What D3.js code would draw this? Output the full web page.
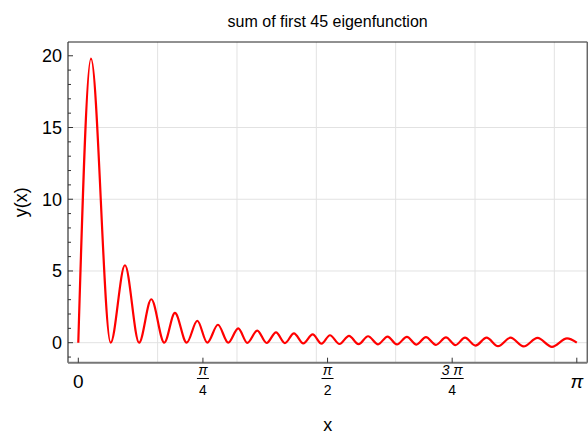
<!DOCTYPE html>
<html>
<head>
<meta charset="utf-8">
<script src="https://cdn.jsdelivr.net/npm/d3@7"></script>
<style>
  body { margin: 0; background: #fff; }
  svg { display: block; font-family: "Liberation Sans", Arial, sans-serif; }
</style>
</head>
<body>
<svg id="chart" width="588" height="436"></svg>
<script>
// curve: successive peaks and troughs
var curveX = [0, 0.080, 0.204, 0.294, 0.383, 0.460, 0.542, 0.609, 0.683, 0.750, 0.813,
  0.880, 0.945, 1.008, 1.065, 1.128, 1.187, 1.246, 1.302, 1.359, 1.418, 1.477, 1.533,
  1.586, 1.646, 1.706, 1.766, 1.826, 1.889, 1.949, 2.008, 2.071, 2.131, 2.191, 2.254,
  2.317, 2.377, 2.437, 2.503, 2.573, 2.645, 2.724, 2.806, 2.894, 2.985, 3.080, 3.1416];
var curveY = [0, 19.8, 0, 5.4, 0, 3.03, 0, 2.08, 0, 1.53, 0,
  1.25, 0, 1.0, -0.01, 0.84, -0.02, 0.72, -0.03, 0.65, -0.05, 0.58, -0.07,
  0.52, -0.09, 0.48, -0.10, 0.45, -0.11, 0.43, -0.12, 0.41, -0.13, 0.39, -0.15,
  0.37, -0.17, 0.35, -0.20, 0.35, -0.24, 0.35, -0.26, 0.33, -0.29, 0.30, 0];

var yMajor = [0, 5, 10, 15, 20],
 yMinor = [-1, 1, 2, 3, 4, 6, 7, 8, 9, 11, 12, 13, 14, 16, 17, 18, 19],
 yGrid = [0, 5, 10, 15],
 xGrid = [0.5, 1, 1.5, 2, 2.5, 3],
 xTicks = [0, Math.PI/4, Math.PI/2, 3*Math.PI/4, Math.PI],
 xTickNum = ["0", "\u03c0", "\u03c0", "3 \u03c0", "\u03c0"],
 xTickDen = [null, "4", "2", "4", null];

var svg = d3.select("#chart"),
 pl = 68, pr = 587.3, pt = 42, pb = 362.7;

var x = d3.scaleLinear().domain([-0.0649, 3.2077]).range([pl, pr]),
 y = d3.scaleLinear().domain([-1.394, 20.96]).range([pb, pt]);

// grid
svg.append("g").selectAll("line").data(xGrid).enter().append("line")
  .attr("x1", function(d){ return x(d); }).attr("x2", function(d){ return x(d); })
  .attr("y1", pt).attr("y2", pb)
  .attr("stroke", "#e2e2e2").attr("stroke-width", 1);
svg.append("g").selectAll("line").data(yGrid).enter().append("line")
  .attr("y1", function(d){ return y(d); }).attr("y2", function(d){ return y(d); })
  .attr("x1", pl).attr("x2", pr)
  .attr("stroke", "#e2e2e2").attr("stroke-width", 1);

// frame
svg.append("line").attr("x1", pl).attr("x2", pr).attr("y1", pt).attr("y2", pt)
  .attr("stroke", "#222").attr("stroke-width", 1);
svg.append("line").attr("x1", pr).attr("x2", pr).attr("y1", pt).attr("y2", pb)
  .attr("stroke", "#666").attr("stroke-width", 1.5);
svg.append("line").attr("x1", pl).attr("x2", pl).attr("y1", pt).attr("y2", pb)
  .attr("stroke", "#333").attr("stroke-width", 1.2);
svg.append("line").attr("x1", pl).attr("x2", pr).attr("y1", pb).attr("y2", pb)
  .attr("stroke", "#777").attr("stroke-width", 2);

// y ticks
svg.append("g").selectAll("line").data(yMajor).enter().append("line")
  .attr("x1", pl).attr("x2", pl + 5)
  .attr("y1", function(d){ return y(d); }).attr("y2", function(d){ return y(d); })
  .attr("stroke", "#333");
svg.append("g").selectAll("line").data(yMinor).enter().append("line")
  .attr("x1", pl).attr("x2", pl + 3)
  .attr("y1", function(d){ return y(d); }).attr("y2", function(d){ return y(d); })
  .attr("stroke", "#333");
svg.append("g").selectAll("text").data(yMajor).enter().append("text")
  .attr("x", pl - 6).attr("y", function(d){ return y(d); })
  .attr("dy", "0.36em").attr("text-anchor", "end")
  .style("font-size", "18px").text(function(d){ return d; });

// x ticks
svg.append("g").selectAll("line").data(xTicks).enter().append("line")
  .attr("x1", function(d){ return x(d); }).attr("x2", function(d){ return x(d); })
  .attr("y1", pb).attr("y2", pb - 5)
  .attr("stroke", "#333");

var xl = svg.append("g").selectAll("g").data(xTicks).enter().append("g")
  .attr("transform", function(d){ return "translate(" + x(d) + ",0)"; });
xl.each(function(d, i){
  var g = d3.select(this);
  if(xTickDen[i] == null){
    g.append("text").attr("y", 388).attr("text-anchor", "middle")
      .style("font-size", "19px")
      .style("font-style", i == 0 ? "normal" : "italic")
      .text(xTickNum[i]);
  }else{
    g.append("text").attr("y", 375).attr("text-anchor", "middle")
      .style("font-size", "14px").style("font-style", "italic").text(xTickNum[i]);
    var w = i == 3 ? 11.5 : 6;
    g.append("line").attr("x1", -w).attr("x2", w).attr("y1", 378.5).attr("y2", 378.5)
      .attr("stroke", "#000").attr("stroke-width", 1);
    g.append("text").attr("y", 395).attr("text-anchor", "middle")
      .style("font-size", "14px").text(xTickDen[i]);
  }
});

// curve
var line = d3.line()
  .x(function(d){ return x(d[0]); })
  .y(function(d){ return y(d[1]); })
  .curve(d3.curveMonotoneX);

svg.append("path")
  .attr("d", line(d3.zip(curveX, curveY)))
  .attr("fill", "none").attr("stroke", "#ff0000").attr("stroke-width", 2.2)
  .attr("stroke-linejoin", "round");

// labels
svg.append("text").attr("x", (pl + pr) / 2).attr("y", 27)
  .attr("text-anchor", "middle").style("font-size", "16px")
  .text("sum of first 45 eigenfunction");
svg.append("text").attr("x", (pl + pr) / 2).attr("y", 431)
  .attr("text-anchor", "middle").style("font-size", "18px").text("x");
svg.append("text").attr("transform", "translate(27," + (pt + pb) / 2 + ") rotate(-90)")
  .attr("text-anchor", "middle").style("font-size", "18px").text("y(x)");
</script>
</body>
</html>
